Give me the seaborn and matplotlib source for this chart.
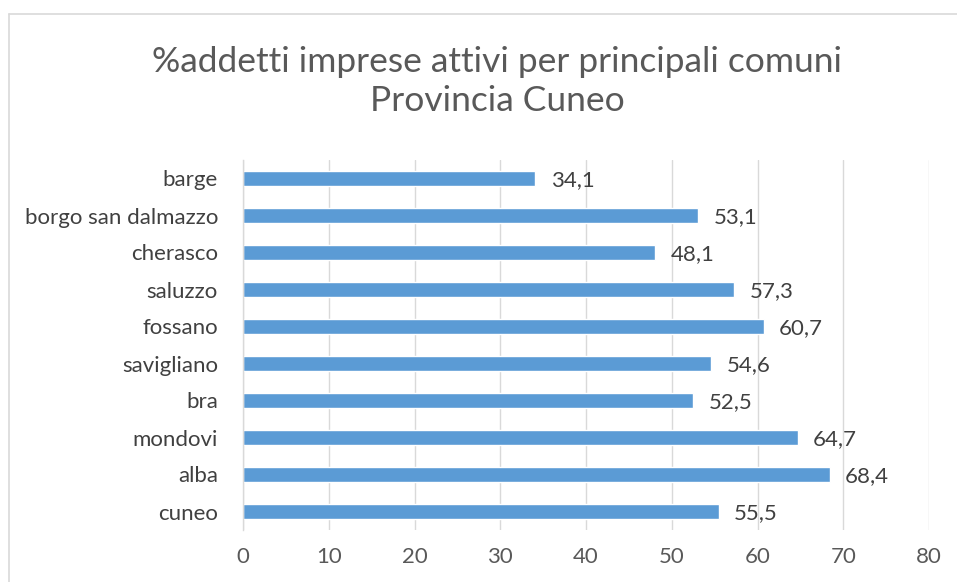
import matplotlib
matplotlib.use("Agg")
import matplotlib.pyplot as plt
import seaborn as sns
import pandas as pd
from matplotlib.lines import Line2D

comuni = ["barge", "borgo san dalmazzo", "cherasco", "saluzzo", "fossano",
          "savigliano", "bra", "mondovi", "alba", "cuneo"]
valori = [34.1, 53.1, 48.1, 57.3, 60.7, 54.6, 52.5, 64.7, 68.4, 55.5]
etichette = ["34,1", "53,1", "48,1", "57,3", "60,7", "54,6", "52,5", "64,7", "68,4", "55,5"]
xticks = [0, 10, 20, 30, 40, 50, 60, 70, 80]

sns.set_theme(style="white")
plt.rcParams['font.family'] = ['Lato', 'DejaVu Sans']

df = pd.DataFrame({"comune": comuni, "valore": valori})

fig = plt.figure(figsize=(9.57, 5.82), dpi=100)
ax = fig.add_axes([243/957, 1-530/582, (929-243)/957, (530-160)/582])

sns.barplot(data=df, x="valore", y="comune", color="#5B9BD5", width=0.38,
            saturation=1, ax=ax, order=comuni)

ax.set_xlim(0, 80)
ax.set_xticks(xticks)
ax.set_xticklabels([str(t) for t in xticks], fontsize=16, color="#595959")
ax.tick_params(axis="y", labelsize=16, labelcolor="#404040", length=0, pad=18)
ax.tick_params(axis="x", length=0, pad=12)
ax.set_xlabel("")
ax.set_ylabel("")
ax.grid(axis="x", color="#D9D9D9", linewidth=1)
ax.set_axisbelow(True)
for s in ["top", "right", "bottom"]:
    ax.spines[s].set_visible(False)
ax.spines["left"].set_color("#D9D9D9")
ax.spines["left"].set_linewidth(1)

for p, lab in zip(ax.patches, etichette):
    ax.annotate(lab, (p.get_width(), p.get_y() + p.get_height() / 2),
                xytext=(11, -1.5), textcoords="offset points", va="center", ha="left",
                fontsize=16, color="#404040")

fig.text(497/957, 1 - 62/582, "%addetti imprese attivi per principali comuni",
         ha="center", va="center", fontsize=25.5, color="#595959")
fig.text(497/957, 1 - 101/582, "Provincia Cuneo",
         ha="center", va="center", fontsize=25.5, color="#595959")

fig.add_artist(Line2D([9/957, 9/957], [0, 1 - 14/582], transform=fig.transFigure,
                      color="#D9D9D9", linewidth=1.2))
fig.add_artist(Line2D([9/957, 1], [1 - 14/582, 1 - 14/582], transform=fig.transFigure,
                      color="#D9D9D9", linewidth=1.2))

fig.savefig("out.png", dpi=100)
